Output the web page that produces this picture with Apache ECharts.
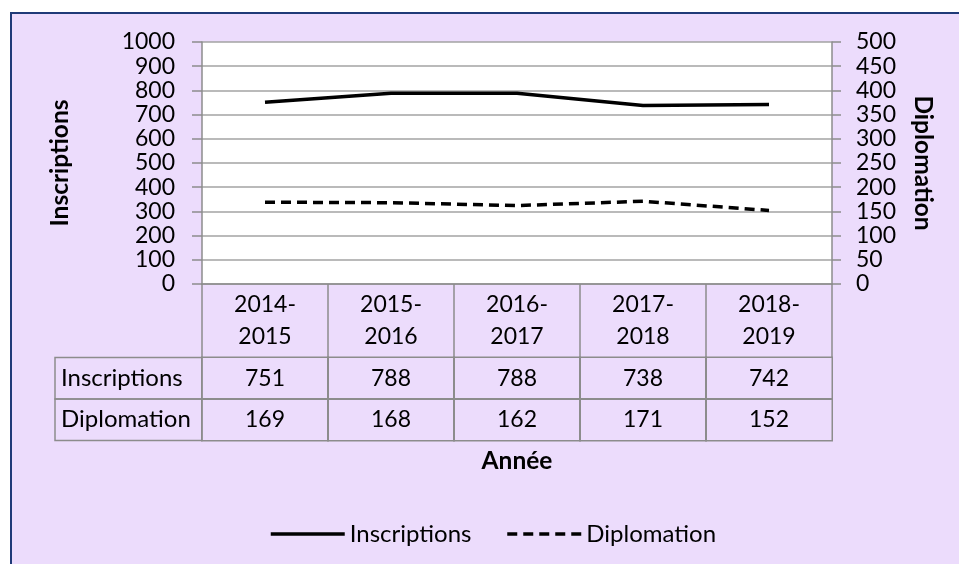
<!DOCTYPE html>
<html>
<head>
<meta charset="utf-8">
<script src="https://cdn.jsdelivr.net/npm/echarts@6/dist/echarts.min.js"></script>
<style>
  html, body { margin: 0; padding: 0; background: #fff; }
  #bg { position: absolute; left: 10px; top: 12px; width: 949px; height: 552px;
        background: #ecdcfc; border-left: 2px solid #1f3a78; border-top: 2px solid #1f3a78; box-sizing: border-box; }
  #main { position: absolute; left: 0; top: 0; width: 959px; height: 564px; }
</style>
</head>
<body>
<div id="bg"></div>
<div id="main"></div>
<script>
// données du graphique
var annees = ['2014-2015', '2015-2016', '2016-2017', '2017-2018', '2018-2019'];
var inscriptions = [751, 788, 788, 738, 742];
var diplomation = [169, 168, 162, 171, 152];
var lignesTableau = ['Inscriptions', 'Diplomation'];

var police = 'Lato';
var gris = '#8c8c8c';

// cellules du tableau : [colonne, ligne, valeur]
var cellules = [];
annees.forEach(function (a, i) {
  cellules.push([i, 0, inscriptions[i]]);
  cellules.push([i, 1, diplomation[i]]);
});

var myChart = echarts.init(document.getElementById('main'), null, { renderer: 'canvas' });

var titreAxe = { fontFamily: police, fontSize: 24.5, fontWeight: 'bold', color: '#000' };

var option = {
  backgroundColor: 'transparent',
  animation: false,
  textStyle: { fontFamily: police, color: '#000' },
  grid: [
    { left: 202, right: 127, top: 42, bottom: 280, show: true, backgroundColor: '#fff', borderWidth: 0 },
    { left: 202, right: 127, top: 357.5, bottom: 123.5 }
  ],
  legend: {
    left: 264,
    top: 517,
    itemWidth: 74,
    itemHeight: 14,
    itemGap: 34,
    itemStyle: { opacity: 0 },
    lineStyle: { width: 3.5 },
    textStyle: { fontFamily: police, fontSize: 24, color: '#000' },
    data: ['Inscriptions', 'Diplomation']
  },
  xAxis: [
    {
      type: 'category',
      gridIndex: 0,
      data: annees,
      name: 'Année',
      nameLocation: 'middle',
      nameGap: 165,
      nameTextStyle: titreAxe,
      axisLine: { lineStyle: { color: gris, width: 1.5 } },
      axisTick: { show: true, length: 73, lineStyle: { color: gris, width: 1.5 } },
      axisLabel: {
        margin: 5,
        fontSize: 23,
        lineHeight: 32,
        color: '#000',
        formatter: function (v) { return v.replace('-', '-\n'); }
      },
      splitLine: { show: false }
    },
    {
      type: 'category',
      gridIndex: 1,
      data: annees,
      axisLine: { show: false },
      axisTick: { show: false },
      axisLabel: { show: false }
    }
  ],
  yAxis: [
    {
      type: 'value',
      gridIndex: 0,
      min: 0, max: 1000, interval: 100,
      name: 'Inscriptions',
      nameLocation: 'middle',
      nameGap: 129,
      nameTextStyle: titreAxe,
      axisLine: { show: true, lineStyle: { color: gris, width: 1.5 } },
      axisTick: { show: true, length: 10, lineStyle: { color: gris, width: 1.5 } },
      axisLabel: { margin: 27, fontSize: 23, color: '#000', formatter: function (v) { return String(v); } },
      splitLine: { lineStyle: { color: '#a3a3a3', width: 1.5 } }
    },
    {
      type: 'value',
      gridIndex: 0,
      position: 'right',
      min: 0, max: 500, interval: 50,
      name: 'Diplomation',
      nameLocation: 'middle',
      nameGap: 78,
      nameRotate: -90,
      nameTextStyle: titreAxe,
      axisLine: { show: true, lineStyle: { color: gris, width: 1.5 } },
      axisTick: { show: true, length: 9, lineStyle: { color: gris, width: 1.5 } },
      axisLabel: { margin: 24, fontSize: 23, color: '#000', formatter: function (v) { return String(v); } },
      splitLine: { show: false }
    },
    {
      type: 'category',
      gridIndex: 1,
      inverse: true,
      data: lignesTableau,
      axisLine: { show: false },
      axisTick: { show: false },
      axisLabel: {
        interval: 0,
        hideOverlap: false,
        align: 'left',
        margin: 147,
        fontSize: 24,
        color: '#000',
        width: 135,
        height: 41.5,
        padding: [0, 6],
        verticalAlign: 'middle',
        borderColor: gris,
        borderWidth: 1.5
      }
    }
  ],
  series: [
    {
      name: 'Inscriptions',
      type: 'line',
      xAxisIndex: 0, yAxisIndex: 0,
      data: inscriptions,
      symbol: 'none',
      color: '#000',
      lineStyle: { color: '#000', width: 3.5 }
    },
    {
      name: 'Diplomation',
      type: 'line',
      xAxisIndex: 0, yAxisIndex: 1,
      data: diplomation,
      symbol: 'none',
      color: '#000',
      lineStyle: { color: '#000', width: 3.5, type: [10, 6] }
    },
    {
      name: 'tableau',
      type: 'heatmap',
      xAxisIndex: 1, yAxisIndex: 2,
      data: cellules,
      itemStyle: { color: 'rgba(0,0,0,0)', borderColor: gris, borderWidth: 1.5 },
      label: { show: true, fontFamily: police, fontSize: 23, color: '#000',
               formatter: function (p) { return p.value[2]; } },
      emphasis: { disabled: true }
    }
  ]
};

myChart.setOption(option);
</script>
</body>
</html>
